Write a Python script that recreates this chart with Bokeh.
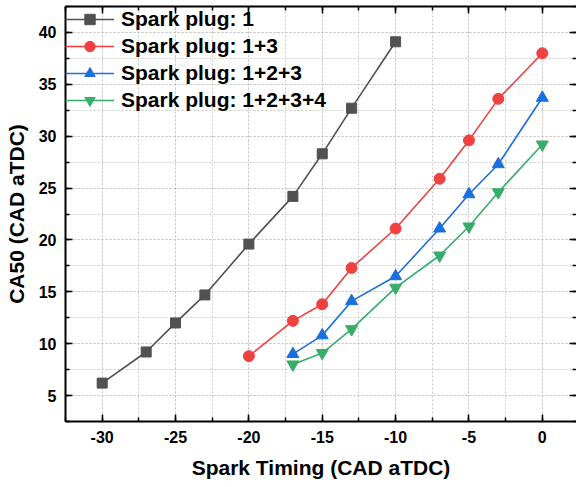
from bokeh.plotting import figure
from bokeh.models import (LinearAxis, SingleIntervalTicker, Range1d, Legend, LegendItem,
                          CustomJSTickFormatter)
from bokeh.embed import file_html
from bokeh.resources import INLINE

# Data
x1 = [-30, -27, -25, -23, -20, -17, -15, -13, -10]
y1 = [6.2, 9.2, 12.0, 14.7, 19.6, 24.2, 28.3, 32.7, 39.1]
x2 = [-20, -17, -15, -13, -10, -7, -5, -3, 0]
y2 = [8.8, 12.2, 13.8, 17.3, 21.1, 25.9, 29.6, 33.6, 38.0]
x3 = [-17, -15, -13, -10, -7, -5, -3, 0]
y3 = [9.0, 10.8, 14.1, 16.5, 21.1, 24.4, 27.3, 33.7]
x4 = [-17, -15, -13, -10, -7, -5, -3, 0]
y4 = [8.0, 9.1, 11.4, 15.4, 18.5, 21.3, 24.6, 29.2]
labels = ["Spark plug: 1", "Spark plug: 1+3", "Spark plug: 1+2+3", "Spark plug: 1+2+3+4"]
colors = ["#515151", "#F14040", "#1A6FDF", "#37AD6B"]

FONT = "Liberation Sans"

p = figure(width=576, height=487, output_backend="svg", toolbar_location=None,
           x_range=Range1d(-32.5, 2.33), y_range=Range1d(2.5, 42.5),
           x_axis_location=None, y_axis_location=None,
           min_border_left=65, min_border_right=0, min_border_top=6, min_border_bottom=66)
p.outline_line_color = None
p.background_fill_color = "white"
p.border_fill_color = "white"

plain = CustomJSTickFormatter(code="return String(tick);")

def style_axis(ax, show_labels=True, show_line=True):
    ax.ticker = SingleIntervalTicker(interval=5, num_minor_ticks=2)
    ax.major_tick_in = 7
    ax.major_tick_out = 0
    ax.minor_tick_in = 4
    ax.minor_tick_out = 0
    ax.major_tick_line_width = 1.5
    ax.minor_tick_line_width = 1.5
    ax.major_tick_line_color = "black"
    ax.minor_tick_line_color = "black"
    ax.axis_line_width = 2
    ax.axis_line_color = "black" if show_line else None
    if show_labels:
        ax.formatter = plain
        ax.major_label_text_font = FONT
        ax.major_label_text_font_style = "bold"
        ax.major_label_text_font_size = "16px"
        ax.major_label_text_color = "black"
        ax.major_label_standoff = 9
        ax.axis_label_text_font = FONT
        ax.axis_label_text_font_style = "bold"
        ax.axis_label_text_font_size = "21px"
        ax.axis_label_text_color = "black"
    else:
        ax.major_label_text_color = None
        ax.major_label_text_font_size = "1px"
        ax.major_label_standoff = 0
        ax.axis_label_standoff = 0

xb = LinearAxis(axis_label="Spark Timing (CAD aTDC)")
style_axis(xb)
xb.axis_label_standoff = 10
p.add_layout(xb, "below")

yl = LinearAxis(axis_label="CA50 (CAD aTDC)")
style_axis(yl)
yl.axis_label_standoff = 8
p.add_layout(yl, "left")

xt = LinearAxis()
style_axis(xt, show_labels=False)
p.add_layout(xt, "above")

yr = LinearAxis()
style_axis(yr, show_labels=False, show_line=False)
p.add_layout(yr, "right")

p.xgrid.ticker = xb.ticker
p.ygrid.ticker = yl.ticker
for grid in (p.xgrid, p.ygrid):
    grid.grid_line_color = "#c8c8c8"
    grid.grid_line_dash = "2 2"
    grid.grid_line_width = 1
    grid.minor_grid_line_color = "#c8c8c8"
    grid.minor_grid_line_dash = "2 2"
    grid.minor_grid_line_width = 1

items = []
l1 = p.line(x1, y1, color=colors[0], line_width=1.6)
m1 = p.scatter(x1, y1, marker="square", size=10, color=colors[0])
items.append(LegendItem(label=labels[0], renderers=[l1, m1]))
l2 = p.line(x2, y2, color=colors[1], line_width=1.6)
m2 = p.scatter(x2, y2, marker="circle", size=11, color=colors[1])
items.append(LegendItem(label=labels[1], renderers=[l2, m2]))
l3 = p.line(x3, y3, color=colors[2], line_width=1.6)
m3 = p.scatter(x3, y3, marker="triangle", size=12, color=colors[2])
items.append(LegendItem(label=labels[2], renderers=[l3, m3]))
l4 = p.line(x4, y4, color=colors[3], line_width=1.6)
m4 = p.scatter(x4, y4, marker="inverted_triangle", size=12, color=colors[3])
items.append(LegendItem(label=labels[3], renderers=[l4, m4]))

legend = Legend(items=items, location="top_left")
legend.background_fill_alpha = 0
legend.border_line_color = None
legend.margin = 0
legend.padding = 8
legend.spacing = 1
legend.glyph_width = 49
legend.glyph_height = 26
legend.label_height = 26
legend.label_standoff = 7
legend.label_text_font = FONT
legend.label_text_font_style = "bold"
legend.label_text_font_size = "21px"
legend.label_text_color = "black"
p.add_layout(legend)

open("out.html", "w").write(file_html(p, INLINE))
